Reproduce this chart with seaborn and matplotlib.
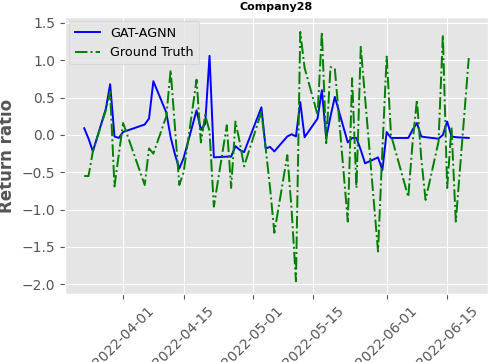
import matplotlib
matplotlib.use("Agg")
import matplotlib.pyplot as plt
import matplotlib.dates as mdates
import seaborn as sns
import pandas as pd

dates = ["2022-03-23", "2022-03-24", "2022-03-25", "2022-03-28", "2022-03-29", "2022-03-30",
         "2022-03-31", "2022-04-01", "2022-04-06", "2022-04-07", "2022-04-08", "2022-04-11",
         "2022-04-12", "2022-04-13", "2022-04-14", "2022-04-15", "2022-04-18", "2022-04-19",
         "2022-04-20", "2022-04-21", "2022-04-22", "2022-04-25", "2022-04-26", "2022-04-27",
         "2022-04-28", "2022-04-29", "2022-05-03", "2022-05-04", "2022-05-05", "2022-05-06",
         "2022-05-09", "2022-05-10", "2022-05-11", "2022-05-12", "2022-05-13", "2022-05-16",
         "2022-05-17", "2022-05-18", "2022-05-19", "2022-05-20", "2022-05-23", "2022-05-24",
         "2022-05-25", "2022-05-26", "2022-05-27", "2022-05-30", "2022-05-31", "2022-06-01",
         "2022-06-02", "2022-06-06", "2022-06-07", "2022-06-08", "2022-06-09", "2022-06-10",
         "2022-06-13", "2022-06-14", "2022-06-15", "2022-06-16", "2022-06-17", "2022-06-20"]

gat_agnn = [0.09, -0.05, -0.22, 0.35, 0.68, -0.02,
            -0.04, 0.04, 0.14, 0.22, 0.72, 0.30,
            -0.03, -0.26, -0.45, -0.31, 0.33, 0.07,
            0.15, 1.06, -0.30, -0.29, -0.29, -0.15,
            -0.20, -0.23, 0.37, -0.18, -0.16, -0.22,
            -0.02, 0.01, -0.02, 0.44, -0.03, 0.22,
            0.60, -0.04, 0.25, 0.51, -0.10, -0.04,
            -0.04, -0.20, -0.38, -0.30, -0.47, 0.04,
            -0.04, -0.04, 0.07, 0.16, -0.02, -0.03,
            -0.05, 0.00, 0.18, -0.02, -0.03, -0.04]

ground_truth = [-0.55, -0.55, -0.22, 0.33, 0.58, -0.69,
                -0.26, 0.16, -0.67, -0.18, -0.25, 0.25,
                0.87, 0.10, -0.67, -0.50, 0.74, -0.10,
                0.27, 0.05, -0.96, 0.13, -0.71, 0.18,
                -0.10, -0.42, 0.31, -0.18, -0.70, -1.31,
                -0.27, -1.00, -1.96, 1.38, 0.90, 0.27,
                1.38, -0.11, 0.91, 0.89, -1.16, 0.76,
                -0.71, 1.18, 0.50, -1.56, -0.20, 1.05,
                0.00, -0.83, -0.10, 0.47, -0.31, -0.87,
                -0.09, 1.34, -0.71, 0.10, -1.16, 1.03]

title = "Company28"
ylabel = "Return ratio"

df = pd.DataFrame({"date": pd.to_datetime(dates), "pred": gat_agnn, "truth": ground_truth})

plt.style.use("ggplot")
fig = plt.figure(figsize=(4.88, 3.62), dpi=100)
ax = fig.add_axes([65 / 488, 1 - 294 / 362, (488 - 65) / 488, (294 - 17) / 362])

sns.lineplot(data=df, x="date", y="pred", ax=ax, color="blue", linewidth=1.4, label="GAT-AGNN")
sns.lineplot(data=df, x="date", y="truth", ax=ax, color="green", linewidth=1.4,
             linestyle="-.", label="Ground Truth")

ax.xaxis.set_major_locator(mdates.DayLocator(bymonthday=[1, 15]))
ax.xaxis.set_major_formatter(mdates.DateFormatter("%Y-%m-%d"))
for lbl in ax.get_xticklabels():
    lbl.set_rotation(45)
    lbl.set_ha("center")

ax.set_ylim(-2.13, 1.58)
ax.set_yticks([-2.0, -1.5, -1.0, -0.5, 0.0, 0.5, 1.0, 1.5])
ax.set_xlabel("")
ax.set_ylabel(ylabel, fontsize=12, fontweight="bold", color="#555555")
ax.set_title(title, fontsize=8, fontweight="bold", pad=5)
ax.tick_params(axis="both", labelsize=10, colors="#555555")
ax.legend(loc="upper left", fontsize=9.2, facecolor="#E5E5E5", framealpha=0.8,
          borderaxespad=0.35)

fig.savefig("out.png", dpi=100)
